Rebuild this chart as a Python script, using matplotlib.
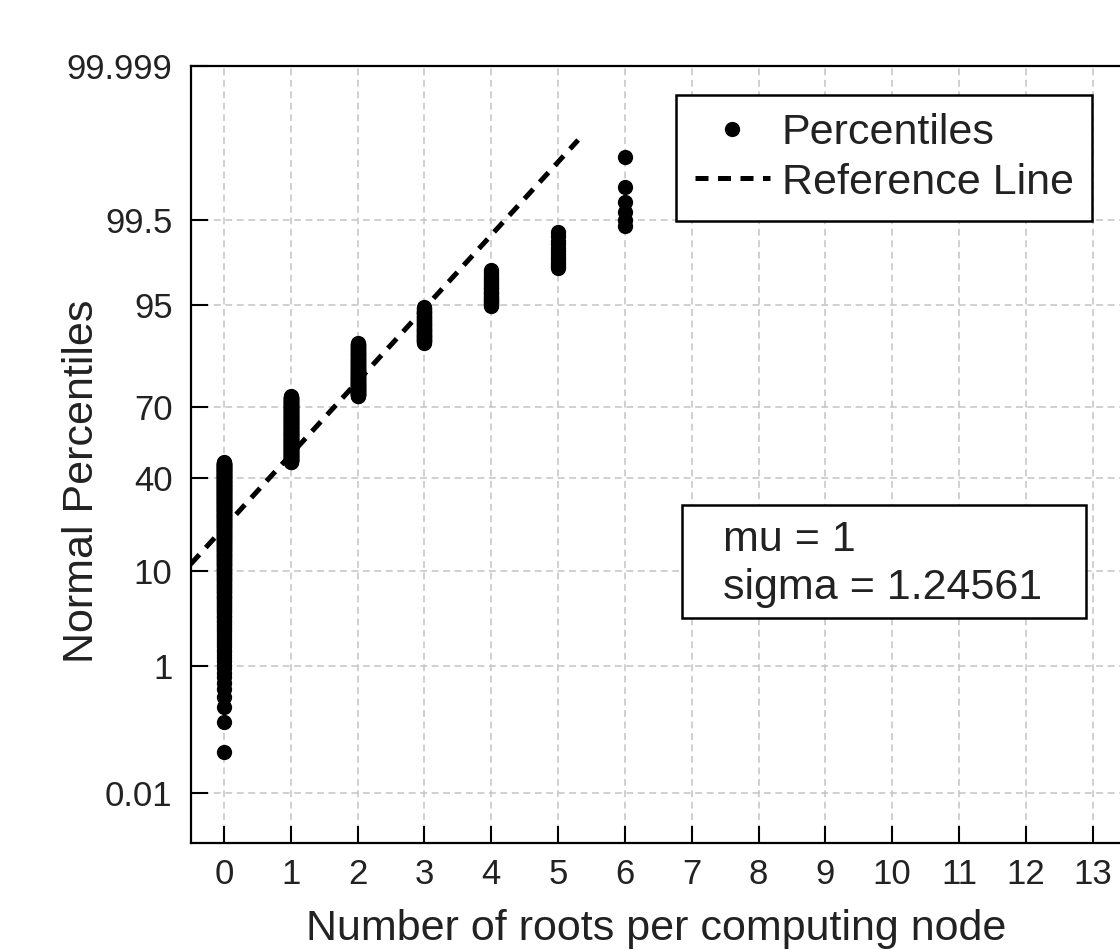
import matplotlib
matplotlib.use("Agg")
import matplotlib.pyplot as plt
from matplotlib.patches import Rectangle
from statistics import NormalDist
import numpy as np

plt.rcParams['font.family'] = ['Liberation Sans', 'DejaVu Sans']

# ---- data ----
root_values = [0, 1, 2, 3, 4, 5, 6]            # number of roots per node
node_counts = [420, 245, 136, 52, 28, 13, 6]   # observations at each value
mu = 1.0
sigma = 1.24561
ref_x_range = [-0.5, 5.3]
ytick_percent = [0.01, 1, 10, 40, 70, 95, 99.5, 99.999]
ytick_labels = ['0.01', '1', '10', '40', '70', '95', '99.5', '99.999']
xticks = list(range(0, 14))

nd = NormalDist()
W, H = 1120, 950
fig = plt.figure(figsize=(W / 100, H / 100), dpi=100)

def fx(px):
    return px / W

def fy(py):
    return 1 - py / H

# axes: left spine at 190.6 px, right edge just past canvas, top 66 px, bottom 843 px
ax = fig.add_axes([fx(190.6), fy(843), (1126 - 190.6) / W, (843 - 66) / H])

# probability plot points: plotting positions (i-0.5)/n on a normal scale
data = np.repeat(root_values, node_counts)
n = len(data)
pp = (np.arange(1, n + 1) - 0.5) / n
zs = np.array([nd.inv_cdf(p) for p in pp])
ax.plot(data, zs, 'o', color='black', markersize=11, markeredgewidth=0,
        label='Percentiles', zorder=3)

# reference line from mu, sigma
lx = np.array(ref_x_range)
ax.plot(lx, (lx - mu) / sigma, color='black', lw=3.6, dashes=(2.6, 1.9),
        label='Reference Line', zorder=2)

zlim = nd.inv_cdf(0.99999)
ax.set_ylim(-zlim, zlim)
ax.set_xlim(-0.5, 13.5)
ax.set_yticks([nd.inv_cdf(p / 100) for p in ytick_percent])
ax.set_yticklabels(ytick_labels)
ax.set_xticks(xticks)
ax.set_xticklabels([str(t) for t in xticks])

ax.tick_params(axis='both', direction='in', length=12, width=1.5,
               labelsize=25, colors='black', labelcolor='#222222')
ax.tick_params(axis='x', pad=11)
ax.tick_params(axis='y', pad=13)
for s in ax.spines.values():
    s.set_linewidth(1.6)
    s.set_color('black')

ax.grid(True, color='#c4c4c4', lw=1.1, ls=(0, (4.5, 3)))
ax.set_axisbelow(True)

# legend
leg = ax.legend(loc='upper right', bbox_to_anchor=(fx(1092), fy(95)),
                bbox_transform=fig.transFigure, borderaxespad=0,
                fontsize=31, numpoints=1, handlelength=1.75,
                handletextpad=0.28, borderpad=0.42, labelspacing=0.22,
                fancybox=False, framealpha=1, edgecolor='black')
leg.get_frame().set_linewidth(1.8)
for t in leg.get_texts():
    t.set_color('#222222')

# mu / sigma text box
fig.add_artist(Rectangle((fx(682), fy(618)), (1086 - 682) / W, (618 - 505) / H,
                         transform=fig.transFigure, facecolor='white',
                         edgecolor='black', lw=1.8, zorder=5))
fig.text(fx(723), fy(540), 'mu = 1', fontsize=31, color='#222222',
         ha='left', va='center', zorder=6)
fig.text(fx(723), fy(588), 'sigma = 1.24561', fontsize=31, color='#222222',
         ha='left', va='center', zorder=6)

# axis labels
fig.text(fx(93), fy(481), 'Normal Percentiles', fontsize=31, color='#222222',
         rotation=90, rotation_mode='anchor', ha='center', va='baseline')
fig.text(fx(656), fy(940), 'Number of roots per computing node', fontsize=31,
         color='#222222', ha='center', va='baseline')

fig.savefig('out.png', dpi=100)
